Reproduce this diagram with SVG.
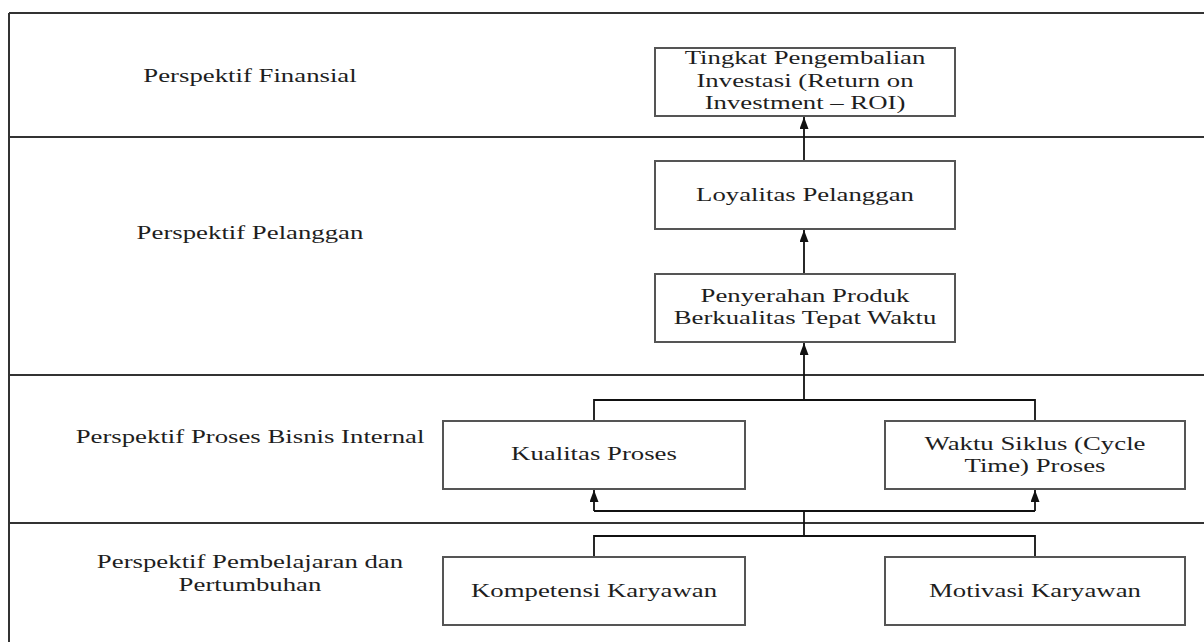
<svg xmlns="http://www.w3.org/2000/svg" width="1204" height="642" viewBox="0 0 1204 642">
  <defs>
    <style>
      .frame { stroke: #333333; stroke-width: 2; fill: none; }
      .box { fill: #ffffff; stroke: #555555; stroke-width: 2; }
      .conn { stroke: #111111; stroke-width: 1.8; fill: none; }
      .t { font-family: "Liberation Serif", "Times New Roman", serif; font-size: 18.6px; fill: #1e1e1e; text-anchor: middle; }
    </style>
    <marker id="arr" viewBox="0 0 12 9" refX="12" refY="4.5" markerWidth="12" markerHeight="9" markerUnits="userSpaceOnUse" orient="auto">
      <path d="M0,0 L12,4.5 L0,9 Z" fill="#111111"/>
    </marker>
  </defs>
  <rect x="0" y="0" width="1204" height="642" fill="#ffffff"/>

  <g id="frame">
    <line class="frame" x1="9" y1="13" x2="1204" y2="13"/>
    <line class="frame" x1="9" y1="13" x2="9" y2="642"/>
    <line class="frame" x1="9" y1="137" x2="1204" y2="137"/>
    <line class="frame" x1="9" y1="375" x2="1204" y2="375"/>
    <line class="frame" x1="9" y1="523" x2="1204" y2="523"/>
  </g>

  <g id="labels">
    <text class="t" transform="translate(250,82) scale(1.44 1)">Perspektif Finansial</text>
    <text class="t" transform="translate(250,239) scale(1.44 1)">Perspektif Pelanggan</text>
    <text class="t" transform="translate(250,443) scale(1.44 1)">Perspektif Proses Bisnis Internal</text>
    <text class="t" transform="translate(250,568) scale(1.44 1)">Perspektif Pembelajaran dan</text>
    <text class="t" transform="translate(250,591) scale(1.44 1)">Pertumbuhan</text>
  </g>

  <g id="connectors">
    <line class="conn" x1="804" y1="161" x2="804" y2="117" marker-end="url(#arr)"/>
    <line class="conn" x1="804" y1="274" x2="804" y2="230" marker-end="url(#arr)"/>
    <line class="conn" x1="804" y1="400" x2="804" y2="343" marker-end="url(#arr)"/>
    <polyline class="conn" points="594,421 594,400 1035,400 1035,421"/>
    <line class="conn" x1="594" y1="511" x2="1035" y2="511"/>
    <line class="conn" x1="594" y1="511" x2="594" y2="490" marker-end="url(#arr)"/>
    <line class="conn" x1="1035" y1="511" x2="1035" y2="490" marker-end="url(#arr)"/>
    <line class="conn" x1="804" y1="511" x2="804" y2="536"/>
    <polyline class="conn" points="594,557 594,536 1035,536 1035,557"/>
  </g>

  <g id="node-roi">
    <rect class="box" x="655" y="48" width="300" height="68"/>
    <text class="t" transform="translate(805,64) scale(1.44 1)">Tingkat Pengembalian</text>
    <text class="t" transform="translate(805,87) scale(1.44 1)">Investasi (Return on</text>
    <text class="t" transform="translate(805,109) scale(1.44 1)">Investment – ROI)</text>
  </g>

  <g id="node-loyalitas">
    <rect class="box" x="655" y="161" width="300" height="68"/>
    <text class="t" transform="translate(805,201) scale(1.44 1)">Loyalitas Pelanggan</text>
  </g>

  <g id="node-penyerahan">
    <rect class="box" x="655" y="274" width="300" height="68"/>
    <text class="t" transform="translate(805,302) scale(1.44 1)">Penyerahan Produk</text>
    <text class="t" transform="translate(805,324) scale(1.44 1)">Berkualitas Tepat Waktu</text>
  </g>

  <g id="node-kualitas">
    <rect class="box" x="443" y="421" width="302" height="68"/>
    <text class="t" transform="translate(594,460) scale(1.44 1)">Kualitas Proses</text>
  </g>

  <g id="node-waktu">
    <rect class="box" x="885" y="421" width="300" height="68"/>
    <text class="t" transform="translate(1035,450) scale(1.44 1)">Waktu Siklus (Cycle</text>
    <text class="t" transform="translate(1035,472) scale(1.44 1)">Time) Proses</text>
  </g>

  <g id="node-kompetensi">
    <rect class="box" x="443" y="557" width="302" height="68"/>
    <text class="t" transform="translate(594,597) scale(1.44 1)">Kompetensi Karyawan</text>
  </g>

  <g id="node-motivasi">
    <rect class="box" x="885" y="557" width="300" height="68"/>
    <text class="t" transform="translate(1035,597) scale(1.44 1)">Motivasi Karyawan</text>
  </g>
</svg>
